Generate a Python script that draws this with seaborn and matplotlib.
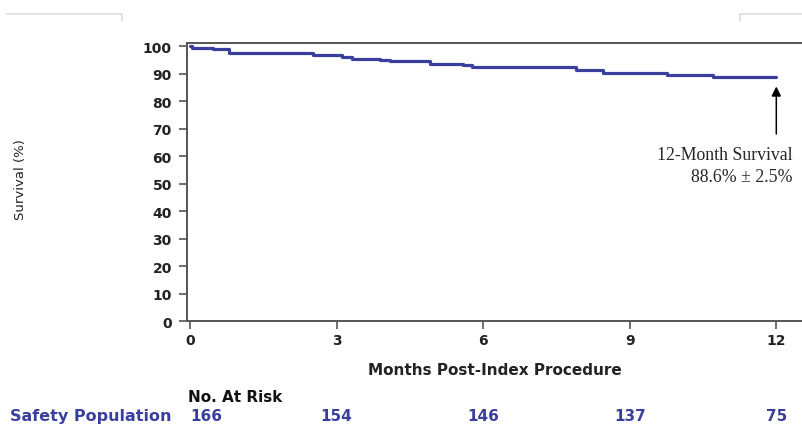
import seaborn as sns
import pandas as pd
import numpy as np
import matplotlib.pyplot as plt
from matplotlib.lines import Line2D

# Kaplan-Meier steps (months, survival %)
months = [0, 0.05, 0.47, 0.8, 2.52, 3.11, 3.32, 3.89, 4.1, 4.92, 5.59, 5.78, 7.89, 8.46, 9.77, 10.7, 12.0]
survival = [100, 99.4, 98.8, 97.6, 96.6, 96.0, 95.4, 94.8, 94.5, 93.6, 93.0, 92.4, 91.3, 90.2, 89.3, 88.6, 88.6]

risk_months = [0, 3, 6, 9, 12]
at_risk = [166, 154, 146, 137, 75]
y_ticks = list(range(0, 101, 10))

blue = "#3a3f9e"

sns.set_style("white")
plt.rcParams['font.family'] = ['DejaVu Sans']

fig = plt.figure(figsize=(8.03, 4.39), dpi=100)
ax = fig.add_axes([0.233, 0.2665, 0.766, 0.6333])

df = pd.DataFrame({"month": months, "survival": survival})
sns.lineplot(data=df, x="month", y="survival", drawstyle="steps-post",
             color=blue, linewidth=2.3, ax=ax)

ax.set_xlim(-0.06, 12.53)
ax.set_ylim(0, 101.1)
ax.set_xticks(risk_months)
ax.set_yticks(y_ticks)
ax.set_xticklabels([str(m) for m in risk_months], fontweight="bold", fontsize=10, color="#222222")
ax.set_yticklabels([str(v) for v in y_ticks], fontweight="bold", fontsize=10, color="#222222")
ax.tick_params(axis="both", direction="out", length=6, width=1.2, color="#555555",
               bottom=True, left=True)
ax.tick_params(axis="y", pad=5)
ax.tick_params(axis="x", pad=2.5)

for s in ["left", "bottom", "top"]:
    ax.spines[s].set_color("#555555")
    ax.spines[s].set_linewidth(1.4)
ax.spines["right"].set_visible(False)

ax.set_xlabel("Months Post-Index Procedure", fontweight="bold", fontsize=11, labelpad=11,
              color="#222222")
ax.set_ylabel("")
fig.text(0.025, 0.59, "Survival (%)", rotation=90, ha="center", va="center", fontsize=9.5,
         color="#222222")

# annotation for 12-month survival
ax.annotate("", xy=(12, 86.3), xytext=(12, 67),
            arrowprops=dict(arrowstyle="-|>", color="black", lw=1.1, mutation_scale=14))
ax.text(12.33, 60.4, "12-Month Survival", ha="right", va="center",
        fontsize=12.8, family="Liberation Serif")
ax.text(12.33, 52.4, "88.6% \u00b1 2.5%", ha="right", va="center",
        fontsize=12.8, family="Liberation Serif")

# number at risk table
fig.text(188 / 803, 1 - 398 / 439, "No. At Risk", fontweight="bold", fontsize=11,
         ha="left", va="center", color="#111111")
fig.text(172 / 803, 1 - 417 / 439, "Safety Population", fontweight="bold", fontsize=11.5,
         ha="right", va="center", color=blue)
for i, (m, n) in enumerate(zip(risk_months, at_risk)):
    ax.annotate(str(n), xy=(m, 0), xycoords=("data", "axes fraction"),
                xytext=(0, 1 - 417 / 439), textcoords=("offset points", "figure fraction"),
                ha="left" if i == 0 else "center", va="center",
                fontweight="bold", fontsize=11, color=blue)

# faint page-edge lines at the top
for xs, ys in [([7, 122, 122], [15, 15, 22]), ([740, 740, 803], [22, 15, 15])]:
    fig.add_artist(Line2D([x / 803 for x in xs], [1 - y / 439 for y in ys],
                          color="#dddddd", linewidth=1.2))

plt.savefig("out.png", dpi=100)
